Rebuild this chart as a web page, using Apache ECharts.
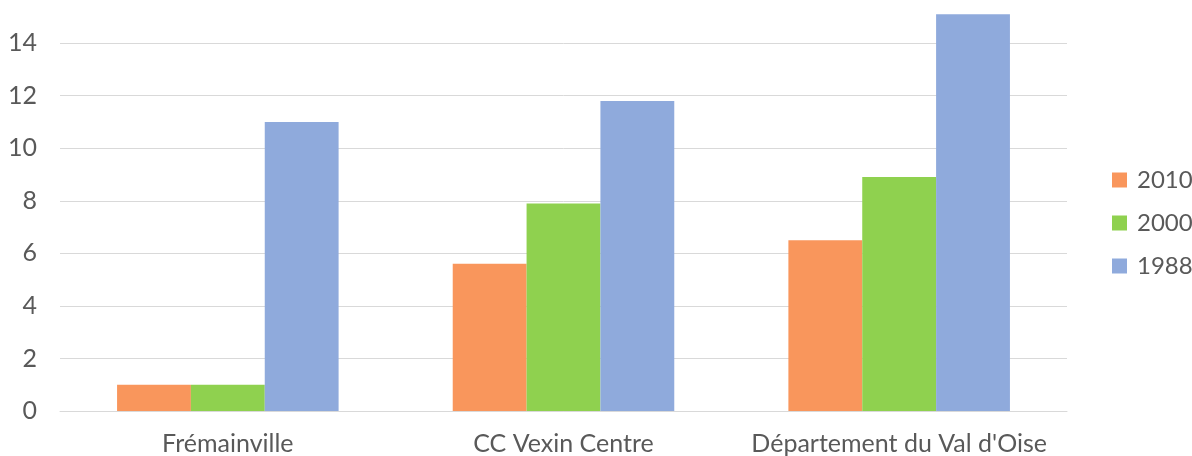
<!DOCTYPE html>
<html>
<head>
<meta charset="utf-8">
<script src="https://cdn.jsdelivr.net/npm/echarts@6/dist/echarts.min.js"></script>
<style>html,body{margin:0;padding:0;background:#fff;overflow:hidden;width:1192px;height:456px}#c{width:1192px;height:478px;margin-top:-22px}</style>
</head>
<body>
<div id="c"></div>
<script>
const categories = ["Frémainville", "CC Vexin Centre", "Département du Val d'Oise"];
const seriesNames = ["2010", "2000", "1988"];
const values2010 = [1.0, 5.6, 6.5];
const values2000 = [1.0, 7.9, 8.9];
const values1988 = [11.0, 11.8, 15.1];
const colors = ["#F9965C", "#8FD14F", "#8FAADC"];

const FONT = "Lato";
const chart = echarts.init(document.getElementById('c'));
chart.setOption({
  animation: false,
  backgroundColor: '#fff',
  grid: { left: 60, right: 125, top: 12, bottom: 42, containLabel: false },
  legend: {
    orient: 'vertical',
    left: 1107,
    top: 185,
    itemWidth: 15,
    itemHeight: 15,
    itemGap: 19,
    icon: 'rect',
    data: seriesNames,
    textStyle: { fontFamily: FONT, fontSize: 24, color: '#595959', padding: [0, 0, 0, 5] }
  },
  xAxis: {
    type: 'category',
    data: categories,
    axisLine: { show: true, lineStyle: { color: '#D9D9D9', width: 1 } },
    axisTick: { show: false },
    axisLabel: { interval: 0, fontFamily: FONT, fontSize: 25, color: '#595959', margin: 20 }
  },
  yAxis: {
    type: 'value',
    min: 0, max: 16, interval: 2,
    axisLine: { show: false },
    axisTick: { show: false },
    splitLine: { lineStyle: { color: '#D9D9D9', width: 1 } },
    axisLabel: { fontFamily: FONT, fontSize: 25, color: '#595959', margin: 23 }
  },
  series: [
    { name: seriesNames[0], type: 'bar', data: values2010, itemStyle: { color: colors[0] }, barGap: '0%', barCategoryGap: '34%' },
    { name: seriesNames[1], type: 'bar', data: values2000, itemStyle: { color: colors[1] }, barGap: '0%', barCategoryGap: '34%' },
    { name: seriesNames[2], type: 'bar', data: values1988, itemStyle: { color: colors[2] }, barGap: '0%', barCategoryGap: '34%' }
  ]
});
</script>
</body>
</html>
